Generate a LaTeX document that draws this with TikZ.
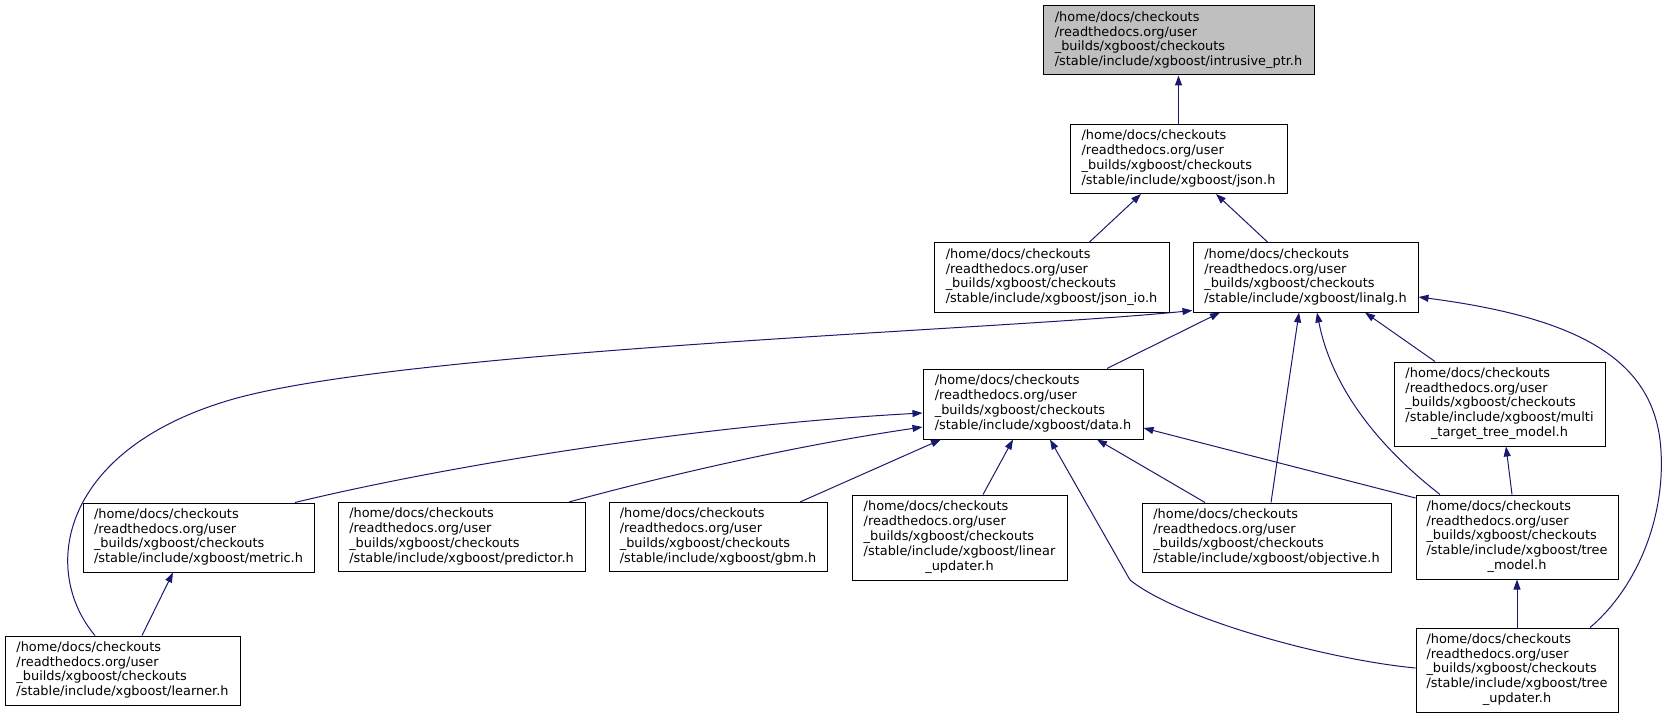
\documentclass[tikz,border=0pt]{standalone}
\usepackage{fontspec}
\setmainfont{DejaVu Sans}
\usetikzlibrary{arrows.meta}
\definecolor{edgeblue}{HTML}{191970}
\definecolor{rootgray}{HTML}{BFBFBF}
\newcommand{\xgb}[1]{\begin{tabular}{@{}l@{}}/home/docs/checkouts\\/readthedocs.org/user\\\_builds/xgboost/checkouts\\/stable/include/xgboost/#1\end{tabular}}
\newcommand{\xgbb}[2]{\begin{tabular}{@{}l@{}}/home/docs/checkouts\\/readthedocs.org/user\\\_builds/xgboost/checkouts\\/stable/include/xgboost/#1\\\multicolumn{1}{@{}c@{}}{#2}\end{tabular}}
\begin{document}
\begin{tikzpicture}[x=1pt,y=-1pt,line width=1pt,font=\fontsize{12.9}{14.8}\selectfont,
 box/.style={draw=black,inner sep=0pt,minimum height=69pt},
 tallbox/.style={box,minimum height=84pt},
 edge/.style={draw=edgeblue,-{Triangle[length=10pt,width=7pt]}}]
 \useasboundingbox (0,0) rectangle (1669,719);
 \node[box,fill=rootgray,minimum width=271pt] (intr) at (1178.5,40.5) {\xgb{intrusive\_ptr.h}};
 \node[box,minimum width=217pt] (json) at (1178.5,159) {\xgb{json.h}};
 \node[box,minimum width=235pt] (jsonio) at (1051.5,277.5) {\xgb{json\_io.h}};
 \node[box,minimum width=225pt] (linalg) at (1305.5,277.5) {\xgb{linalg.h}};
 \node[box,minimum width=220pt,minimum height=70pt] (data) at (1033,404) {\xgb{data.h}};
 \node[tallbox,minimum width=211pt] (multi) at (1499.5,404) {\xgbb{multi}{\_target\_tree\_model.h}};
 \node[box,minimum width=231pt] (metric) at (198.5,537.5) {\xgb{metric.h}};
 \node[box,minimum width=247pt] (predictor) at (461.5,537) {\xgb{predictor.h}};
 \node[box,minimum width=218pt] (gbm) at (718,537) {\xgb{gbm.h}};
 \node[tallbox,minimum width=215pt,minimum height=85pt] (linear) at (959.5,537.5) {\xgbb{linear}{\_updater.h}};
 \node[box,minimum width=249pt] (objective) at (1266.5,537.5) {\xgb{objective.h}};
 \node[tallbox,minimum width=202pt] (treemodel) at (1517,537) {\xgbb{tree}{\_model.h}};
 \node[box,minimum width=235pt] (learner) at (122.5,670.5) {\xgb{learner.h}};
 \node[tallbox,minimum width=202pt] (treeupd) at (1517,670) {\xgbb{tree}{\_updater.h}};
 \draw[edge] (json.north) -- (intr.south);
 \draw[edge] ([xshift=37.5pt]jsonio.north) -- ([xshift=-37.5pt]json.south);
 \draw[edge] ([xshift=-37.5pt]linalg.north) -- ([xshift=37.5pt]json.south);
 \draw[edge] ([xshift=74pt]data.north) -- ([xshift=-85.5pt]linalg.south);
 \draw[edge] ([xshift=4.5pt]objective.north) -- ([xshift=-6.5pt]linalg.south);
 \draw[edge] ([xshift=-77pt]treemodel.north) .. controls (1370,440) and (1330,380) .. ([xshift=11.5pt]linalg.south);
 \draw[edge] ([xshift=-64.5pt]multi.north) -- ([xshift=59.5pt]linalg.south);
 \draw[edge] ([xshift=-27.5pt]learner.north) .. controls (40,570) and (60,450) .. (230,400)
  .. controls (400,350) and (1000,330) .. ([yshift=2pt]linalg.south west);
 \draw[edge] ([xshift=73pt]treeupd.north) .. controls (1640,585) and (1668,510) .. (1660,440)
  .. controls (1650,360) and (1580,318) .. ([yshift=-19.5pt]linalg.east);
 \draw[edge] ([xshift=96.5pt]metric.north) .. controls (450,465) and (700,425) .. ([yshift=-9pt]data.west);
 \draw[edge] ([xshift=107.5pt]predictor.north) .. controls (650,480) and (780,448) .. ([yshift=-23pt]data.west);
 \draw[edge] ([xshift=82pt]gbm.north) -- ([xshift=-92pt]data.south);
 \draw[edge] ([xshift=23.5pt]linear.north) -- ([xshift=-20pt]data.south);
 \draw[edge] ([yshift=2pt]treeupd.west) .. controls (1330,660) and (1180,620) .. (1130,580) -- ([xshift=17pt]data.south);
 \draw[edge] ([xshift=-61.5pt]objective.north) -- ([xshift=64pt]data.south);
 \draw[edge] ([yshift=39pt]treemodel.west) -- ([yshift=-24pt]data.east);
 \draw[edge] ([xshift=-5pt]treemodel.north) -- ([xshift=6.5pt]multi.south);
 \draw[edge] (treeupd.north) -- (treemodel.south);
 \draw[edge] ([xshift=19.5pt]learner.north) -- ([xshift=-25.5pt]metric.south);
\end{tikzpicture}
\end{document}
